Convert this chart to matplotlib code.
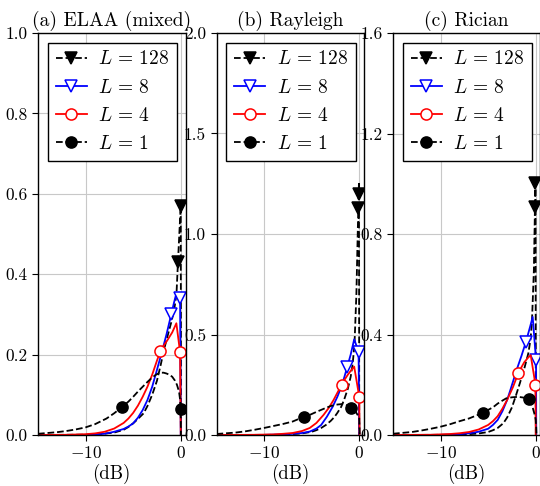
import matplotlib
matplotlib.use("Agg")
import matplotlib.pyplot as plt

plt.rcParams.update({
    "font.family": "serif",
    "font.serif": ["cmr10"],
    "mathtext.fontset": "cm",
    "axes.formatter.use_mathtext": True,
    "axes.unicode_minus": True,
})

titles = ["(a) ELAA (mixed)", "(b) Rayleigh", "(c) Rician"]
labels = [r"$L\,=\,128$", r"$L\,=\,8$", r"$L\,=\,4$", r"$L\,=\,1$"]
ylims = [1.0, 2.0, 1.6]
yticks = [[0.0, 0.2, 0.4, 0.6, 0.8, 1.0], [0.0, 0.5, 1.0, 1.5, 2.0], [0.0, 0.4, 0.8, 1.2, 1.6]]
xticks = [-10, 0]

# ---- Panel (a) ELAA (mixed)
a_L128_x = [-15, -9, -7, -6, -5.5, -5, -4.5, -3.9, -3.5, -3, -2.5, -2.1, -1.77, -1.4, -1.0, -0.7, -0.45, -0.29, -0.15, 0.0, 0.03]
a_L128_y = [0, 0.001, 0.006, 0.013, 0.02, 0.029, 0.04, 0.054, 0.072, 0.1, 0.135, 0.175, 0.211, 0.245, 0.28, 0.31, 0.35, 0.431, 0.5, 0.57, 0]
a_L128_m = [17, 19]
a_L8_x = [-15, -10, -8, -7, -6, -5.5, -5, -4.5, -4, -3.5, -3, -2.5, -2, -1.5, -1.0, -0.7, -0.43, -0.07, 0.0]
a_L8_y = [0, 0.0003, 0.003, 0.008, 0.015, 0.021, 0.029, 0.043, 0.062, 0.087, 0.12, 0.162, 0.205, 0.25, 0.30, 0.33, 0.355, 0.342, 0]
a_L8_m = [14, 17]
a_L4_x = [-15, -12, -10, -9, -8, -7, -6, -5.5, -5, -4.5, -4, -3.5, -3, -2.5, -2.13, -1.8, -1.4, -0.9, -0.46, -0.07, 0.0]
a_L4_y = [0, 0.0005, 0.002, 0.004, 0.008, 0.016, 0.03, 0.041, 0.055, 0.073, 0.095, 0.12, 0.15, 0.185, 0.209, 0.222, 0.236, 0.255, 0.278, 0.206, 0]
a_L4_m = [14, 19]
a_L1_x = [-15, -13, -12, -11, -10, -9, -7.8, -7, -6.2, -5.5, -5, -4.5, -4, -3.5, -3, -2.6, -2.2, -1.8, -1.5, -1.2, -0.9, -0.6, -0.4, -0.18, -0.08, 0.0, 0.02]
a_L1_y = [0.003, 0.007, 0.01, 0.014, 0.019, 0.027, 0.041, 0.054, 0.069, 0.083, 0.095, 0.108, 0.12, 0.132, 0.143, 0.15, 0.155, 0.155, 0.153, 0.15, 0.145, 0.135, 0.125, 0.108, 0.09, 0.064, 0]
a_L1_m = [8, 25]

# ---- Panel (b) Rayleigh
b_L128_x = [-15, -8, -6, -5, -4.5, -4, -3.5, -3, -2.6, -2.3, -1.9, -1.6, -1.2, -0.9, -0.7, -0.5, -0.3, -0.1, -0.06, -0.03, 0.0]
b_L128_y = [0, 0.001, 0.008, 0.016, 0.024, 0.035, 0.05, 0.07, 0.09, 0.11, 0.14, 0.174, 0.23, 0.29, 0.35, 0.45, 0.7, 1.13, 1.2, 1.26, 0]
b_L128_m = [17, 18]
b_L8_x = [-15, -10, -8, -7, -6, -5.2, -4.5, -4, -3.4, -2.8, -2.3, -1.8, -1.25, -0.9, -0.53, -0.07, 0.0]
b_L8_y = [0, 0.0005, 0.003, 0.006, 0.01, 0.017, 0.032, 0.05, 0.091, 0.14, 0.19, 0.25, 0.34, 0.4, 0.476, 0.414, 0]
b_L8_m = [12, 15]
b_L4_x = [-15, -11, -9, -8, -7, -6, -5.2, -4.5, -3.75, -3.2, -2.7, -2.3, -1.86, -1.5, -1.2, -0.8, -0.53, 0.0, 0.03]
b_L4_y = [0, 0.001, 0.003, 0.006, 0.01, 0.02, 0.035, 0.06, 0.1, 0.135, 0.174, 0.21, 0.249, 0.278, 0.3, 0.325, 0.34, 0.19, 0]
b_L4_m = [12, 17]
b_L1_x = [-15, -13, -12, -11, -10, -9, -8, -7, -5.8, -5.2, -4.5, -4, -3.5, -3, -2.4, -1.8, -1.3, -0.82, -0.5, -0.3, -0.1, 0.0, 0.05]
b_L1_y = [0.005, 0.012, 0.018, 0.026, 0.035, 0.045, 0.055, 0.067, 0.091, 0.1, 0.115, 0.125, 0.135, 0.144, 0.151, 0.154, 0.148, 0.136, 0.125, 0.11, 0.094, 0.083, 0]
b_L1_m = [8, 17]

# ---- Panel (c) Rician
c_L128_x = [-15, -8, -6, -5, -4.5, -4, -3.4, -3, -2.5, -2.1, -1.67, -1.2, -0.78, -0.55, -0.4, -0.2, -0.08, -0.04, -0.02, 0.01]
c_L128_y = [0, 0.001, 0.006, 0.012, 0.019, 0.028, 0.047, 0.07, 0.11, 0.155, 0.206, 0.265, 0.325, 0.38, 0.45, 0.65, 0.909, 1.004, 1.02, 0]
c_L128_m = [16, 17]
c_L8_x = [-15, -10, -8, -7, -6, -5, -4.5, -4, -3.5, -3, -2.7, -2, -1.5, -1.03, -0.6, -0.32, 0.03, 0.05]
c_L8_y = [0, 0.0005, 0.003, 0.007, 0.013, 0.025, 0.04, 0.06, 0.095, 0.14, 0.175, 0.26, 0.315, 0.371, 0.43, 0.47, 0.298, 0]
c_L8_m = [13, 16]
c_L4_x = [-15, -11, -9, -8, -7, -6, -5, -4.5, -4, -3.5, -3, -2.4, -1.85, -1.5, -1.2, -0.8, -0.53, -0.03, 0.0]
c_L4_y = [0, 0.001, 0.004, 0.007, 0.012, 0.022, 0.04, 0.055, 0.075, 0.105, 0.14, 0.19, 0.245, 0.27, 0.29, 0.308, 0.318, 0.2, 0]
c_L4_m = [12, 17]
c_L1_x = [-15, -13, -12, -11, -10, -9, -8, -7, -5.5, -4.9, -4.5, -4, -3.5, -3.1, -2.5, -1.85, -1.3, -0.68, -0.4, -0.15, 0.0, 0.05, 0.08]
c_L1_y = [0.005, 0.012, 0.018, 0.025, 0.033, 0.043, 0.055, 0.066, 0.089, 0.102, 0.11, 0.125, 0.137, 0.146, 0.15, 0.152, 0.149, 0.142, 0.12, 0.086, 0.06, 0.03, 0]
c_L1_m = [8, 17]

panels = [
    [(a_L128_x, a_L128_y, a_L128_m), (a_L8_x, a_L8_y, a_L8_m), (a_L4_x, a_L4_y, a_L4_m), (a_L1_x, a_L1_y, a_L1_m)],
    [(b_L128_x, b_L128_y, b_L128_m), (b_L8_x, b_L8_y, b_L8_m), (b_L4_x, b_L4_y, b_L4_m), (b_L1_x, b_L1_y, b_L1_m)],
    [(c_L128_x, c_L128_y, c_L128_m), (c_L8_x, c_L8_y, c_L8_m), (c_L4_x, c_L4_y, c_L4_m), (c_L1_x, c_L1_y, c_L1_m)],
]

styles = [
    dict(color="black", ls="--", marker="v", mfc="black", mec="black"),
    dict(color="blue", ls="-", marker="v", mfc="white", mec="blue"),
    dict(color="red", ls="-", marker="o", mfc="white", mec="red"),
    dict(color="black", ls="--", marker="o", mfc="black", mec="black"),
]

fig = plt.figure(figsize=(5.4, 4.86), dpi=100)
lefts = [38 / 540, 216.5 / 540, 393 / 540]
width = 147.5 / 540
bottom = (486 - 435) / 486
height = (435 - 33) / 486

for i in range(3):
    ax = fig.add_axes([lefts[i], bottom, width, height])
    for j, (x, y, m) in enumerate(panels[i]):
        st = styles[j]
        ax.plot(x, y, color=st["color"], ls=st["ls"], lw=1.3, marker=st["marker"],
                mfc=st["mfc"], mec=st["mec"], ms=8, mew=1.1, markevery=m, label=labels[j])
    ax.set_xlim(-15, 0.5)
    ax.set_ylim(0, ylims[i])
    ax.set_xticks(xticks)
    ax.set_yticks(yticks[i])
    ax.set_yticklabels([f"{v:.1f}" for v in yticks[i]])
    ax.grid(True, color="#c8c8c8", lw=0.8)
    ax.set_axisbelow(True)
    ax.tick_params(labelsize=12.5, length=4, width=0.8, direction="out")
    for s in ax.spines.values():
        s.set_linewidth(1.0)
        s.set_color("black")
    ax.set_title(titles[i], fontsize=14, pad=5)
    ax.set_xlabel("(dB)", fontsize=13.5, labelpad=2)
    leg = ax.legend(loc="upper left", fontsize=14, handlelength=1.6, fancybox=False,
                    framealpha=1, edgecolor="black", borderaxespad=0.5,
                    labelspacing=0.52, handletextpad=0.6, borderpad=0.4)
    leg.get_frame().set_linewidth(1.0)

fig.savefig("out.png", dpi=100)
